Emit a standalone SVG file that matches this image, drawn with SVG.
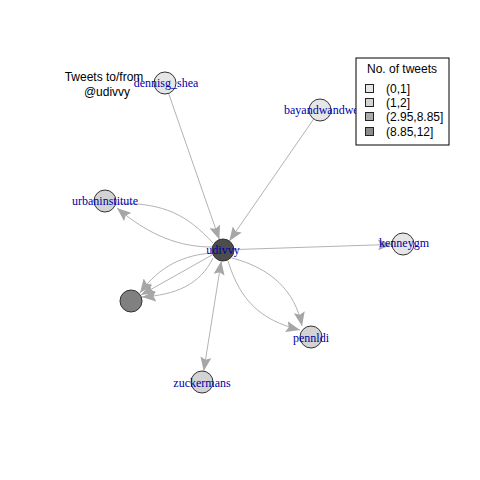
<svg xmlns="http://www.w3.org/2000/svg" width="480" height="480" viewBox="0 0 480 480">
<style>
.e{fill:none;stroke:#b3b3b3;stroke-width:1}
.n{stroke:#333333;stroke-width:1}
.lb{font-family:"Liberation Serif","Times New Roman",serif;font-size:12px;fill:#0000a8;text-anchor:middle}
.t{font-family:"Liberation Sans",Arial,sans-serif;font-size:12px;fill:#000}
.c0{fill:#e6e6e6}.c1{fill:#d3d3d3}.c2{fill:#808080}.c3{fill:#4d4d4d}
</style>
<defs>
<marker id="ah" markerUnits="userSpaceOnUse" markerWidth="15" markerHeight="11" refX="14" refY="5.5" orient="auto-start-reverse" viewBox="0 0 15 11">
<path d="M0,0 L14,5.5 L0,11 L2.5,5.5 z" fill="#a6a6a6"/>
</marker>
</defs>
<rect width="480" height="480" fill="#ffffff"/>
<g id="edges">
<path class="e" d="M168.6,93.4 L219.4,239.6" marker-end="url(#ah)"/>
<path class="e" d="M313.7,119 L229.3,241" marker-end="url(#ah)"/>
<path class="e" d="M234,249.6 L392,244.4" marker-end="url(#ah)"/>
<path class="e" d="M221.3,260.9 L203.7,371.1" marker-start="url(#ah)" marker-end="url(#ah)"/>
<path class="e" d="M212,247 C180,247 150,236 117,208" marker-end="url(#ah)"/>
<path class="e" d="M116,203 C165,203 187,215 213,243"/>
<path class="e" d="M212,255 L141,295" marker-end="url(#ah)"/>
<path class="e" d="M212,253 C185,255 160,265 140,293" marker-end="url(#ah)"/>
<path class="e" d="M213,258 C200,285 175,295 142,297" marker-end="url(#ah)"/>
<path class="e" d="M232,258 C270,268 295,290 302,326" marker-end="url(#ah)"/>
<path class="e" d="M228,261 C240,300 260,320 300,330" marker-end="url(#ah)"/>
</g>
<g id="node-dennisg_shea"><circle class="n c0" cx="165" cy="83" r="11"/><text class="lb" x="166" y="87">dennisg_shea</text></g>
<g id="node-bayandwandwe"><circle class="n c0" cx="320" cy="110" r="11"/><text class="lb" x="284" y="114" style="text-anchor:start">bayandwandwe</text></g>
<g id="node-urbaninstitute"><circle class="n c1" cx="105" cy="201" r="11"/><text class="lb" x="105" y="205">urbaninstitute</text></g>
<g id="node-kenneygm"><circle class="n c0" cx="403" cy="244" r="11"/><text class="lb" x="404" y="247">kenneygm</text></g>
<g id="node-unnamed"><circle class="n c2" cx="131" cy="301" r="11"/></g>
<g id="node-pennldi"><circle class="n c1" cx="311" cy="337" r="11"/><text class="lb" x="311" y="342">pennldi</text></g>
<g id="node-zuckermans"><circle class="n c1" cx="202" cy="382" r="11"/><text class="lb" x="202" y="387">zuckermans</text></g>
<g id="node-udivvy"><circle class="n c3" cx="223" cy="250" r="11"/><text class="lb" x="223" y="254">udivvy</text></g>
<g id="title">
<text class="t" x="104" y="81" text-anchor="middle">Tweets to/from</text>
<text class="t" x="107" y="96" text-anchor="middle">@udivvy</text>
</g>
<g id="legend">
<rect x="356" y="58" width="93" height="87" fill="#ffffff" stroke="#000" stroke-width="1"/>
<text class="t" x="402" y="73" text-anchor="middle">No. of tweets</text>
<rect x="365.5" y="84.5" width="8" height="8" fill="#e6e6e6" stroke="#222"/>
<rect x="365.5" y="98.5" width="8" height="8" fill="#d3d3d3" stroke="#222"/>
<rect x="365.5" y="112.5" width="8" height="8" fill="#ababab" stroke="#222"/>
<rect x="365.5" y="127.5" width="8" height="8" fill="#8c8c8c" stroke="#222"/>
<text class="t" x="386" y="93">(0,1]</text>
<text class="t" x="386" y="107">(1,2]</text>
<text class="t" x="386" y="121">(2.95,8.85]</text>
<text class="t" x="386" y="136">(8.85,12]</text>
</g>
</svg>
